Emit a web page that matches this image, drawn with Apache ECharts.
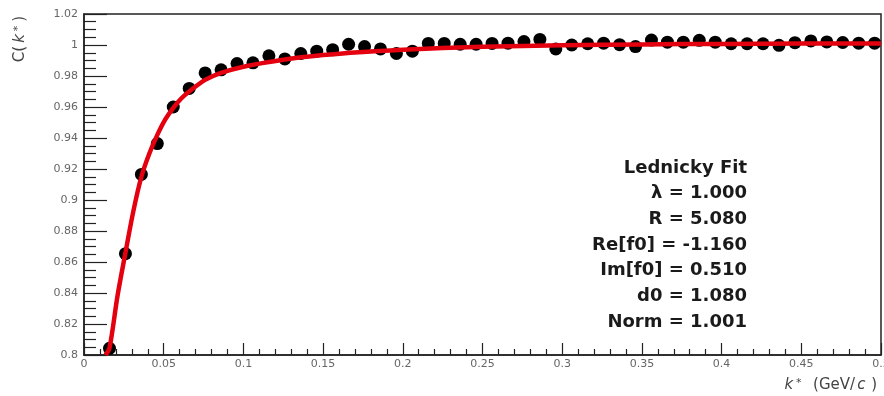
<!DOCTYPE html>
<html><head><meta charset="utf-8">
<script src="https://cdn.jsdelivr.net/npm/echarts@6/dist/echarts.min.js"></script>
<style>html,body{margin:0;padding:0;background:#fff}#c{width:884px;height:396px}</style>
</head><body><div id="c"></div>
<script>
// measured correlation function points
const kStar = [0.016,0.026,0.036,0.046,0.056,0.066,0.076,0.086,0.096,0.106,0.116,0.126,0.136,0.146,0.156,0.166,0.176,0.186,0.196,0.206,0.216,0.226,0.236,0.246,0.256,0.266,0.276,0.286,0.296,0.306,0.316,0.326,0.336,0.346,0.356,0.366,0.376,0.386,0.396,0.406,0.416,0.426,0.436,0.446,0.456,0.466,0.476,0.486,0.496];
const cValues = [0.8043,0.8654,0.9165,0.9364,0.9600,0.9720,0.9820,0.9840,0.9880,0.9885,0.9930,0.9910,0.9945,0.9960,0.9970,1.0005,0.9990,0.9975,0.9945,0.9960,1.0010,1.0010,1.0005,1.0005,1.0010,1.0012,1.0022,1.0036,0.9975,1.0000,1.0008,1.0012,1.0002,0.9990,1.0032,1.0018,1.0018,1.0030,1.0018,1.0008,1.0008,1.0008,0.9998,1.0015,1.0026,1.0020,1.0016,1.0012,1.0012];
// Lednicky fit curve
const fitK = [0.0135,0.016,0.021,0.026,0.031,0.036,0.041,0.046,0.051,0.056,0.061,0.066,0.076,0.086,0.1,0.125,0.15,0.175,0.2,0.25,0.3,0.35,0.4,0.45,0.5];
const fitC = [0.8,0.8045,0.838,0.866,0.893,0.915,0.930,0.942,0.952,0.9595,0.9655,0.970,0.9775,0.982,0.986,0.9905,0.9935,0.9955,0.997,0.9988,0.9998,1.0004,1.0007,1.0009,1.001];
const fitLabels = ['Lednicky Fit','\u03bb = 1.000','R = 5.080','Re[f0] = -1.160','Im[f0] = 0.510','d0 = 1.080','Norm = 1.001'];
const xRange = [0, 0.5, 0.05];
const yRange = [0.8, 1.02, 0.02];

const chart = echarts.init(document.getElementById('c'), null, {renderer:'canvas'});
const FONT = 'DejaVu Sans';
const graphics = fitLabels.map((t,i)=>({
  type:'text', x:747, y:168+i*25.7, z:100,
  style:{text:t, font:'bold 18px "DejaVu Sans"', fill:'#1a1a1a', textAlign:'right', textVerticalAlign:'middle'}
}));
graphics.push({
  type:'text', x:20, y:39, rotation:Math.PI/2, z:100,
  style:{
    text:'{n|C(}{i|k}{s|*}{n|)}',
    textAlign:'center', textVerticalAlign:'middle',
    rich:{
      n:{font:'15px "DejaVu Sans"', fill:'#444'},
      i:{font:'italic 15px "DejaVu Sans"', fill:'#444', padding:[0,1,0,3]},
      s:{font:'11px "DejaVu Sans"', fill:'#444', verticalAlign:'top', padding:[0,4,0,2]}
    }
  }
});
graphics.push({
  type:'text', x:877, y:385, z:100,
  style:{
    text:'{i|k}{s|*}{n|  (GeV/}{i|c}{n| )}',
    textAlign:'right', textVerticalAlign:'middle',
    rich:{
      n:{font:'15px "DejaVu Sans"', fill:'#444'},
      i:{font:'italic 15px "DejaVu Sans"', fill:'#444', padding:[0,1,0,2]},
      s:{font:'11px "DejaVu Sans"', fill:'#444', verticalAlign:'top', padding:[0,2,0,2]}
    }
  }
});

chart.setOption({
  animation:false,
  backgroundColor:'#fff',
  grid:{left:84, right:3, top:14, bottom:41, containLabel:false, outerBoundsMode:'none', show:true, borderColor:'#222', borderWidth:1.5, backgroundColor:'transparent'},
  xAxis:{
    type:'value', min:xRange[0], max:xRange[1], interval:xRange[2],
    axisLine:{show:true, onZero:false, lineStyle:{color:'#222', width:1.5}},
    axisTick:{show:true, inside:true, length:12, lineStyle:{color:'#222', width:1.2}},
    minorTick:{show:true, splitNumber:5, length:6, lineStyle:{color:'#222', width:1.2}},
    axisLabel:{color:'#666', fontFamily:FONT, fontSize:11, margin:4, showMaxLabel:true, hideOverlap:false},
    splitLine:{show:false}
  },
  yAxis:{
    type:'value', min:yRange[0], max:yRange[1], interval:yRange[2],
    axisLine:{show:true, onZero:false, lineStyle:{color:'#222', width:1.5}},
    axisTick:{show:true, inside:true, length:23, lineStyle:{color:'#222', width:1.2}},
    minorTick:{show:true, splitNumber:4, length:12, lineStyle:{color:'#222', width:1.2}},
    axisLabel:{color:'#666', fontFamily:FONT, fontSize:11, margin:6},
    splitLine:{show:false}
  },
  graphic:graphics,
  series:[
    {type:'scatter', data:kStar.map((k,i)=>[k,cValues[i]]), symbol:'circle', symbolSize:13,
     itemStyle:{color:'#000', opacity:1}, z:2, clip:true},
    {type:'line', data:fitK.map((k,i)=>[k,fitC[i]]), showSymbol:false, smooth:0.3, clip:true,
     lineStyle:{color:'#e4000f', width:4.5}, z:3}
  ]
});
</script></body></html>
